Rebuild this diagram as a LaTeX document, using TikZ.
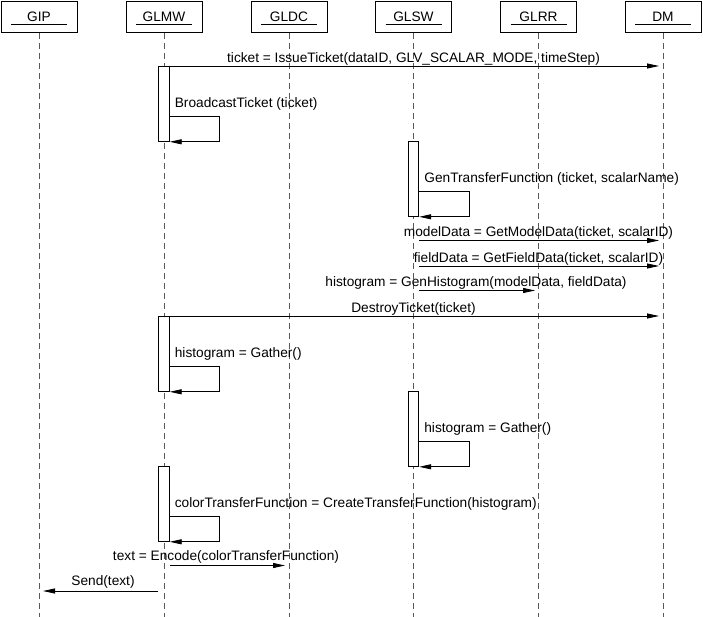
\documentclass[tikz,border=0pt]{standalone}
\usepackage{fontspec}
\setmainfont{Liberation Sans}
\usetikzlibrary{arrows.meta}
\begin{document}
\begin{tikzpicture}[x=1pt,y=-1pt,
  txt/.style={font=\fontsize{13.7}{15}\selectfont},
  obj/.style={draw, line width=0.8pt, minimum width=76pt, minimum height=31pt, inner sep=0pt, anchor=north, txt},
  uline/.style={line width=0.8pt},
  life/.style={dash pattern=on 6pt off 4pt, line width=1pt, black!65},
  act/.style={draw, fill=white, line width=0.8pt, minimum width=10.5pt, inner sep=0pt, anchor=north},
  msg/.style={-{Triangle[length=12pt,width=5pt]}, line width=0.8pt},
  lbl/.style={txt, inner sep=0pt, anchor=base},
  slbl/.style={txt, inner sep=0pt, anchor=base west}]
\useasboundingbox[fill=white] (0,0) rectangle (703,617);

% objects
\node[obj] (GIP)  at (39,1)    {GIP};
\node[obj] (GLMW) at (164,1)   {GLMW};
\node[obj] (GLDC) at (289,1)   {GLDC};
\node[obj] (GLSW) at (413.5,1) {GLSW};
\node[obj] (GLRR) at (538.5,1) {GLRR};
\node[obj] (DM)   at (663,1)   {DM};
\foreach \o in {GIP,GLMW,GLDC,GLSW,GLRR,DM}{
  \draw[uline] ([xshift=-28pt,yshift=8.5pt]\o.south) -- ([xshift=28pt,yshift=8.5pt]\o.south);
  \coordinate (\o-end) at (\o.south |- 0,617);
  \draw[life] (\o.south) -- (\o-end);
}

% activations
\node[act, minimum height=75pt] (a1) at (164,66)    {};
\node[act, minimum height=75pt] (a2) at (413.5,141) {};
\node[act, minimum height=75pt] (a3) at (164,316)   {};
\node[act, minimum height=75pt] (a4) at (413.5,391) {};
\node[act, minimum height=75pt] (a5) at (164,466)   {};

% end points on DM / GLRR / GLDC / GIP
\coordinate (dm1) at (659,66);
\coordinate (dm2) at (659,240.5);
\coordinate (dm3) at (659,266);
\coordinate (rr1) at (535,290.5);
\coordinate (dm4) at (659,316);
\coordinate (dc1) at (285,565.5);
\coordinate (gm1) at (158,591);
\coordinate (gp1) at (43,591);
\coordinate (sw1) at (419,240.5);
\coordinate (sw2) at (419,266);
\coordinate (sw3) at (419,290.5);
\coordinate (mw1) at (169.5,565.5);

% message 1
\draw[msg] (a1.north east) -- (dm1);
\node[lbl] (l1) at (413.5,62.5) {ticket = IssueTicket(dataID, GLV\_SCALAR\_MODE, timeStep)};

% self calls
\foreach \a/\t in {a1/{BroadcastTicket (ticket)}, a2/{GenTransferFunction (ticket, scalarName)}, a3/{histogram = Gather()}, a4/{histogram = Gather()}, a5/{colorTransferFunction = CreateTransferFunction(histogram)}}{
  \draw[msg] ([yshift=25pt]\a.south east) -- ++(50,0) -- ++(0,25) -- (\a.south east);
  \node[slbl] at ([xshift=5pt,yshift=34pt]\a.south east) {\t};
}

% data messages
\draw[msg] (sw1) -- (dm2);
\node[lbl] (l2) at (538.5,236.5) {modelData = GetModelData(ticket, scalarID)};
\draw[msg] (sw2) -- (dm3);
\node[lbl] (l3) at (538.5,262) {fieldData = GetFieldData(ticket, scalarID)};
\draw[msg] (sw3) -- (rr1);
\node[lbl] (l4) at (476,286.5) {histogram = GenHistogram(modelData, fieldData)};
\draw[msg] (a3.north east) -- (dm4);
\node[lbl] (l5) at (413.5,312) {DestroyTicket(ticket)};

% encode / send
\draw[msg] (mw1) -- (dc1);
\node[lbl] (l6) at (226,560.5) {text = Encode(colorTransferFunction)};
\draw[msg] (gm1) -- (gp1);
\node[lbl] (l7) at (103,585.5) {Send(text)};
\end{tikzpicture}
\end{document}
